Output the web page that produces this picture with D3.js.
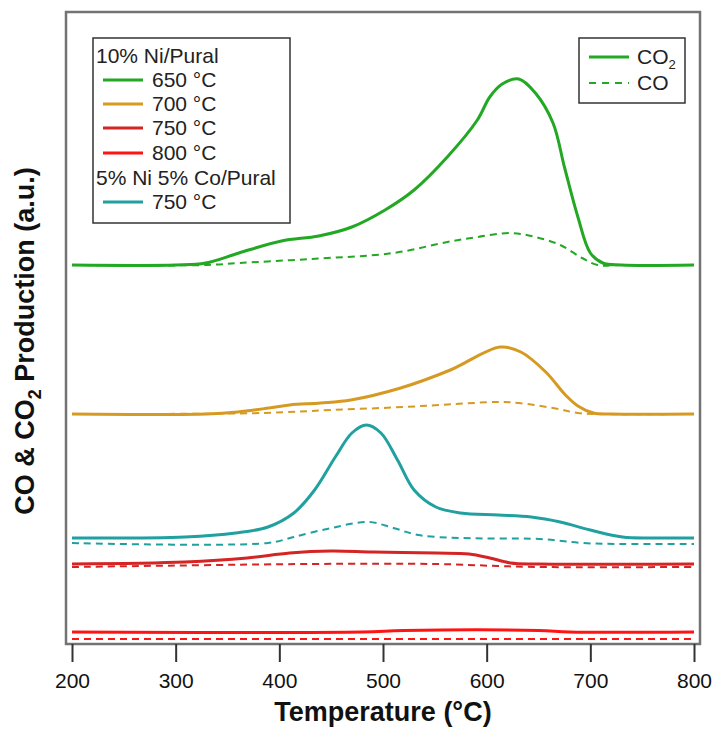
<!DOCTYPE html>
<html>
<head>
<meta charset="utf-8">
<script src="https://cdn.jsdelivr.net/npm/d3@7"></script>
<style>
  body { margin: 0; background: #fff; }
  text { font-family: "Liberation Sans", Arial, sans-serif; }
</style>
</head>
<body>
<div id="main-chart"></div>
<script>
// values are stacked (offset) intensities in a.u.
const niPural650_T   = [200, 300, 329, 361, 402, 438, 470, 502, 530, 562, 591, 603, 615, 631, 647, 664, 675, 688, 700, 712, 730, 800];
const niPural650_CO2 = [379, 379, 381, 391, 403, 408, 417, 434, 454, 487, 524, 547, 560, 565, 551, 521, 477, 427, 391, 381, 379, 379];
const niPural650_COT = [200, 330, 361, 430, 510, 562, 591, 623, 647, 671, 692, 707, 730, 800];
const niPural650_CO  = [379, 379, 381, 385, 391, 402, 407, 411, 407, 399, 386, 379, 379, 379];

const niPural700_T   = [200, 330, 360, 390, 410, 440, 469, 517, 565, 613, 633, 657, 676, 688, 703, 720, 800];
const niPural700_CO2 = [230, 230, 232, 236, 239, 241, 244, 256, 274, 297, 292, 272, 249, 238, 231, 230, 230];
const niPural700_COT = [200, 384, 450, 520, 570, 611, 631, 664, 688, 710, 800];
const niPural700_CO  = [230, 231, 234, 237, 240, 242, 241, 236, 231, 230, 230];

const niCo750_T   = [200, 309, 358, 389, 414, 434, 454, 470, 484, 498, 514, 530, 551, 575, 611, 643, 671, 700, 731, 760, 800];
const niCo750_CO2 = [106, 107, 111, 117, 131, 154, 187, 211, 219, 211, 184, 154, 137, 131, 129, 127, 122, 114, 107, 106, 106];
const niCo750_COT = [200, 389, 414, 450, 486, 510, 534, 575, 651, 692, 730, 800];
const niCo750_CO  = [101, 101, 107, 116, 122, 116, 109, 106, 105, 101, 100, 100];

const niPural750_T   = [200, 309, 369, 410, 450, 490, 551, 583, 603, 623, 650, 800];
const niPural750_CO2 = [80, 82, 86, 91, 93, 92, 91, 90, 86, 81, 80, 80];
const niPural750_COT = [200, 430, 551, 611, 650, 800];
const niPural750_CO  = [77, 80, 80, 78, 77, 77];

const niPural800_T   = [200, 480, 520, 650, 680, 800];
const niPural800_CO2 = [12, 12, 13.5, 13.5, 12, 12];
const niPural800_COT = [200, 800];
const niPural800_CO  = [5, 5];

const xTicks = [200, 300, 400, 500, 600, 700, 800];

const series = [
  { name: "650", color: "#22a822", t: niPural650_T, co2: niPural650_CO2, tco: niPural650_COT, co: niPural650_CO },
  { name: "700", color: "#d69a22", t: niPural700_T, co2: niPural700_CO2, tco: niPural700_COT, co: niPural700_CO },
  { name: "NiCo750", color: "#21a0a0", t: niCo750_T, co2: niCo750_CO2, tco: niCo750_COT, co: niCo750_CO },
  { name: "750", color: "#d42424", t: niPural750_T, co2: niPural750_CO2, tco: niPural750_COT, co: niPural750_CO },
  { name: "800", color: "#ff1414", t: niPural800_T, co2: niPural800_CO2, tco: niPural800_COT, co: niPural800_CO }
];

const width = 712, height = 730;
const plotLeft = 66, plotRight = 700, plotTop = 12, plotBottom = 644;

const svg = d3.select("#main-chart")
    .append("svg")
    .attr("width", width)
    .attr("height", height);

const x = d3.scaleLinear().domain([200, 800]).range([72, 694]);
const y = d3.scaleLinear().domain([0, 632]).range([plotBottom, plotTop]);

const line = d3.line()
    .x(d => x(d[0]))
    .y(d => y(d[1]))
    .curve(d3.curveCatmullRom.alpha(0.5));

// curves
series.forEach(s => {
    svg.append("path")
        .attr("d", line(s.tco.map((t, i) => [t, s.co[i]])))
        .attr("fill", "none")
        .attr("stroke", s.color)
        .attr("stroke-width", 2)
        .attr("stroke-dasharray", "7,5");
    svg.append("path")
        .attr("d", line(s.t.map((t, i) => [t, s.co2[i]])))
        .attr("fill", "none")
        .attr("stroke", s.color)
        .attr("stroke-width", 3);
});

// frame
svg.append("rect")
    .attr("x", plotLeft).attr("y", plotTop)
    .attr("width", plotRight - plotLeft).attr("height", plotBottom - plotTop)
    .attr("fill", "none")
    .attr("stroke", "#737373")
    .attr("stroke-width", 2.5);

// x axis
const xAxis = svg.append("g")
    .attr("transform", `translate(0, ${plotBottom})`)
    .call(d3.axisBottom(x).tickValues(xTicks).tickSize(18).tickPadding(11).tickFormat(d3.format("d")));
xAxis.select(".domain").remove();
xAxis.selectAll("line").attr("stroke", "#333").attr("stroke-width", 2);
xAxis.selectAll("text").attr("font-size", 21).attr("fill", "#111");

svg.append("text")
    .attr("x", 383).attr("y", 721)
    .attr("text-anchor", "middle")
    .attr("font-size", 27).attr("font-weight", "bold").attr("fill", "#111")
    .text("Temperature (°C)");

const yTitle = svg.append("text")
    .attr("transform", "translate(34, 341) rotate(-90)")
    .attr("text-anchor", "middle")
    .attr("font-size", 27).attr("font-weight", "bold").attr("fill", "#111");
yTitle.append("tspan").text("CO & CO");
yTitle.append("tspan").attr("font-size", 18).attr("dy", 7).text("2");
yTitle.append("tspan").attr("dy", -7).text(" Production (a.u.)");

// legend: samples
const leg = svg.append("g");
leg.append("rect")
    .attr("x", 93).attr("y", 38).attr("width", 197).attr("height", 185)
    .attr("fill", "#fff").attr("stroke", "#333").attr("stroke-width", 1.5);

const legendRows = [
  { label: "10% Ni/Pural", y: 56 },
  { label: "650 °C", color: "#22a822", y: 80 },
  { label: "700 °C", color: "#d69a22", y: 104 },
  { label: "750 °C", color: "#d42424", y: 128 },
  { label: "800 °C", color: "#ff1414", y: 153 },
  { label: "5% Ni 5% Co/Pural", y: 178 },
  { label: "750 °C", color: "#21a0a0", y: 202 }
];
legendRows.forEach(r => {
    if (r.color) {
        leg.append("line")
            .attr("x1", 103).attr("x2", 143).attr("y1", r.y).attr("y2", r.y)
            .attr("stroke", r.color).attr("stroke-width", 3);
    }
    leg.append("text")
        .attr("x", r.color ? 152 : 96).attr("y", r.y + 7)
        .attr("font-size", 21).attr("fill", "#222")
        .text(r.label);
});

// legend: gases
const leg2 = svg.append("g");
leg2.append("rect")
    .attr("x", 579).attr("y", 38).attr("width", 106).attr("height", 65)
    .attr("fill", "#fff").attr("stroke", "#333").attr("stroke-width", 1.5);
leg2.append("line")
    .attr("x1", 589).attr("x2", 629).attr("y1", 57).attr("y2", 57)
    .attr("stroke", "#22a822").attr("stroke-width", 3);
leg2.append("line")
    .attr("x1", 589).attr("x2", 629).attr("y1", 83).attr("y2", 83)
    .attr("stroke", "#22a822").attr("stroke-width", 2).attr("stroke-dasharray", "7,6");
const co2Label = leg2.append("text")
    .attr("x", 637).attr("y", 64)
    .attr("font-size", 21).attr("fill", "#222");
co2Label.append("tspan").text("CO");
co2Label.append("tspan").attr("font-size", 13).attr("dy", 5).text("2");
leg2.append("text")
    .attr("x", 637).attr("y", 90)
    .attr("font-size", 21).attr("fill", "#222")
    .text("CO");
</script>
</body>
</html>
